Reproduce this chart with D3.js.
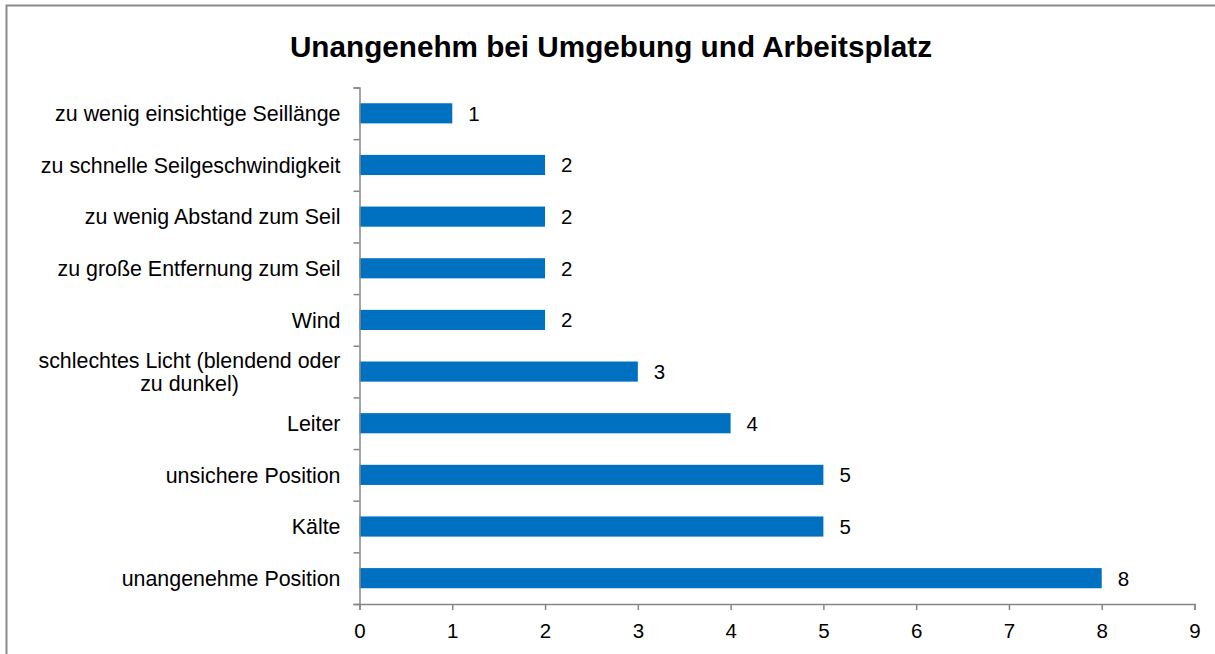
<!DOCTYPE html>
<html>
<head>
<meta charset="utf-8">
<script src="https://cdn.jsdelivr.net/npm/d3@7"></script>
<style>
  body { margin: 0; background: #fff; }
  svg { font-family: "Liberation Sans", Arial, sans-serif; }
</style>
</head>
<body>
<script>
const width = 1215;
const height = 654;

// data, top to bottom as shown
const categories = [
  "zu wenig einsichtige Seillänge",
  "zu schnelle Seilgeschwindigkeit",
  "zu wenig Abstand zum Seil",
  "zu große Entfernung zum Seil",
  "Wind",
  "schlechtes Licht (blendend oder|zu dunkel)",
  "Leiter",
  "unsichere Position",
  "Kälte",
  "unangenehme Position"
];
const values = [1, 2, 2, 2, 2, 3, 4, 5, 5, 8];
const xTicks = [0, 1, 2, 3, 4, 5, 6, 7, 8, 9];
const title = "Unangenehm bei Umgebung und Arbeitsplatz";

const data = categories.map((c, i) => ({ label: c, value: values[i] }));

const plot = { left: 359.5, right: 1194.5, top: 87.5, bottom: 604 };
const axisColor = "#868686";

const svg = d3.select("body").append("svg")
  .attr("width", width)
  .attr("height", height);

// chart border
svg.append("rect")
  .attr("x", 6.5).attr("y", 5.5)
  .attr("width", 1220).attr("height", 660)
  .attr("fill", "#fff")
  .attr("stroke", "#8c8c8c")
  .attr("stroke-width", 2);

svg.append("text")
  .attr("x", 611).attr("y", 57)
  .attr("text-anchor", "middle")
  .style("font-size", "29.7px")
  .style("font-weight", "bold")
  .text(title);

const x = d3.scaleLinear()
  .domain([0, 9])
  .range([plot.left, plot.right]);

const y = d3.scaleBand()
  .domain(categories)
  .range([plot.top, plot.bottom])
  .paddingInner(0.61)
  .paddingOuter(0.305);

// boundaries for the category ticks
const yEdges = d3.scaleLinear()
  .domain([0, categories.length])
  .range([plot.top, plot.bottom]);

// bars
svg.append("g").selectAll("rect")
  .data(data)
  .join("rect")
  .attr("x", x(0))
  .attr("y", d => y(d.label))
  .attr("width", d => x(d.value) - x(0))
  .attr("height", y.bandwidth())
  .attr("fill", "#0070C0");

// value labels
svg.append("g").selectAll("text")
  .data(data)
  .join("text")
  .attr("x", d => x(d.value) + 16)
  .attr("y", d => y(d.label) + y.bandwidth() / 2)
  .attr("dy", "0.36em")
  .style("font-size", "20.5px")
  .attr("fill", "#000")
  .text(d => d.value);

// x axis
const xAxis = svg.append("g")
  .attr("transform", `translate(0,${plot.bottom})`)
  .call(d3.axisBottom(x).tickValues(xTicks).tickSize(6).tickPadding(13).tickFormat(d3.format("d")));

// y axis (ticks on category boundaries)
const yAxis = svg.append("g")
  .attr("transform", `translate(${plot.left},0)`)
  .call(d3.axisLeft(yEdges).tickValues(d3.range(0, categories.length + 1)).tickSize(6).tickFormat(""));

[xAxis, yAxis].forEach(a => {
  a.select(".domain").attr("stroke", axisColor).attr("stroke-width", 1.5);
  a.selectAll(".tick line").attr("stroke", axisColor).attr("stroke-width", 1.5);
  a.selectAll(".tick text")
    .attr("fill", "#000")
    .style("font-size", "20.5px")
    .style("font-family", "'Liberation Sans', Arial, sans-serif");
});

// category labels, wrapped lines centered on their block
const labelRight = plot.left - 19;
const lineH = 23;
svg.append("g").selectAll("text")
  .data(data)
  .join("text")
  .style("font-size", "21.4px")
  .attr("fill", "#000")
  .each(function (d) {
    const t = d3.select(this);
    const lines = d.label.split("|");
    const cy = y(d.label) + y.bandwidth() / 2;
    lines.forEach((ln, i) => {
      t.append("tspan")
        .attr("y", cy + (i - (lines.length - 1) / 2) * lineH)
        .attr("dy", "0.36em")
        .text(ln);
    });
    if (lines.length === 1) {
      t.attr("text-anchor", "end");
      t.selectAll("tspan").attr("x", labelRight);
    } else {
      let maxW = 0;
      t.selectAll("tspan").each(function () {
        maxW = Math.max(maxW, this.getComputedTextLength());
      });
      t.attr("text-anchor", "middle");
      t.selectAll("tspan").attr("x", labelRight - maxW / 2);
    }
  });
</script>
</body>
</html>
